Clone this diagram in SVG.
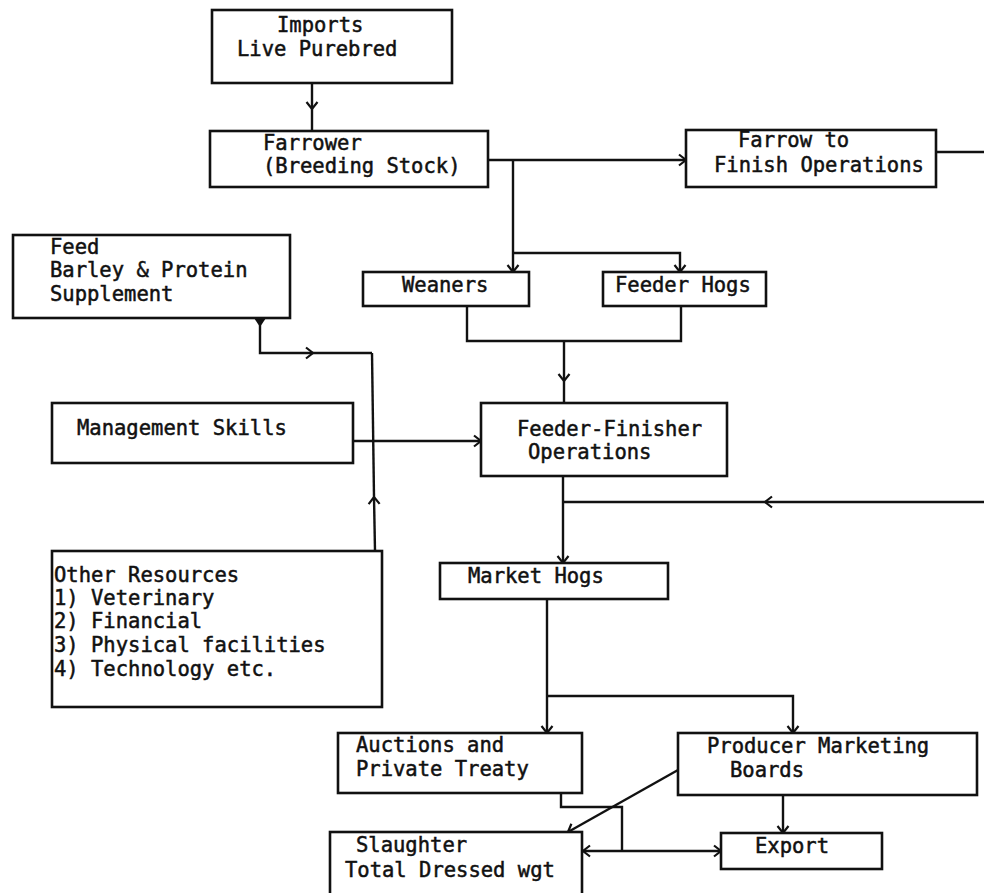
<svg xmlns="http://www.w3.org/2000/svg" width="984" height="893" viewBox="0 0 984 893">
<defs>
<style>
.box{fill:#fff;stroke:#111;stroke-width:2.6}
.ln{fill:none;stroke:#111;stroke-width:2.4}
text{font-family:"DejaVu Sans Mono","Liberation Mono",monospace;font-size:20.5px;fill:#111;stroke:#111;stroke-width:0.5}
</style>
<marker id="arr" viewBox="-10 -10 20 20" markerWidth="20" markerHeight="20" markerUnits="userSpaceOnUse" refX="0" refY="0" orient="auto">
<path d="M-7,-5.5 L0,0 L-7,5.5" fill="none" stroke="#111" stroke-width="2.2"/>
</marker>
</defs>
<rect width="984" height="893" fill="#fff"/>

<g id="connectors">
<path class="ln" d="M312,83 L312,109" marker-end="url(#arr)"/>
<path class="ln" d="M312,109 L312,131"/>
<path class="ln" d="M488,160 L686,160" marker-end="url(#arr)"/>
<path class="ln" d="M513,160 L513,272" marker-end="url(#arr)"/>
<path class="ln" d="M513,253 L680,253 L680,272" marker-end="url(#arr)"/>
<path class="ln" d="M936,152 L984,152"/>
<path class="ln" d="M467,306 L467,341 L681,341 L681,306"/>
<path class="ln" d="M564,341 L564,381" marker-end="url(#arr)"/>
<path class="ln" d="M564,381 L564,403"/>
<polygon points="254,318 266,318 260,327" fill="#111"/>
<path class="ln" d="M260,318 L260,353 L313,353" marker-end="url(#arr)"/>
<path class="ln" d="M313,353 L372,353"/>
<path class="ln" d="M375,551 L374,497" marker-end="url(#arr)"/>
<path class="ln" d="M374,497 L372,353"/>
<path class="ln" d="M353,441 L481,441" marker-end="url(#arr)"/>
<path class="ln" d="M563,476 L563,563" marker-end="url(#arr)"/>
<path class="ln" d="M984,502 L765,502" marker-end="url(#arr)"/>
<path class="ln" d="M765,502 L563,502"/>
<path class="ln" d="M547,599 L547,733" marker-end="url(#arr)"/>
<path class="ln" d="M547,696 L793,696 L793,733" marker-end="url(#arr)"/>
<path class="ln" d="M561,793 L561,807 L622,807 L622,851"/>
<path class="ln" d="M622,851 L583,851" marker-end="url(#arr)"/>
<path class="ln" d="M622,851 L721,851" marker-end="url(#arr)"/>
<path class="ln" d="M678,770 L568,832" marker-end="url(#arr)"/>
<path class="ln" d="M783,795 L783,833" marker-end="url(#arr)"/>
</g>

<g id="imports">
<rect class="box" x="212" y="10" width="240" height="73"/>
<text x="277" y="32">Imports</text>
<text x="237" y="56">Live Purebred</text>
</g>
<g id="farrower">
<rect class="box" x="210" y="131" width="278" height="56"/>
<text x="263" y="150">Farrower</text>
<text x="263" y="173">(Breeding Stock)</text>
</g>
<g id="farrow-to-finish">
<rect class="box" x="686" y="130" width="250" height="57"/>
<text x="738" y="147">Farrow to</text>
<text x="714" y="172">Finish Operations</text>
</g>
<g id="feed">
<rect class="box" x="13" y="235" width="277" height="83"/>
<text x="50" y="254">Feed</text>
<text x="50" y="277">Barley &amp; Protein</text>
<text x="50" y="301">Supplement</text>
</g>
<g id="weaners">
<rect class="box" x="363" y="272" width="166" height="34"/>
<text x="402" y="292">Weaners</text>
</g>
<g id="feeder-hogs">
<rect class="box" x="603" y="272" width="163" height="34"/>
<text x="615" y="292">Feeder Hogs</text>
</g>
<g id="management-skills">
<rect class="box" x="52" y="403" width="301" height="60"/>
<text x="77" y="435">Management Skills</text>
</g>
<g id="feeder-finisher">
<rect class="box" x="481" y="403" width="246" height="73"/>
<text x="517" y="436">Feeder-Finisher</text>
<text x="528" y="459">Operations</text>
</g>
<g id="other-resources">
<rect class="box" x="52" y="551" width="330" height="156"/>
<text x="54" y="582">Other Resources</text>
<text x="54" y="605">1) Veterinary</text>
<text x="54" y="628">2) Financial</text>
<text x="54" y="652">3) Physical facilities</text>
<text x="54" y="676">4) Technology etc.</text>
</g>
<g id="market-hogs">
<rect class="box" x="440" y="563" width="228" height="36"/>
<text x="468" y="583">Market Hogs</text>
</g>
<g id="auctions">
<rect class="box" x="338" y="733" width="244" height="60"/>
<text x="356" y="752">Auctions and</text>
<text x="356" y="776">Private Treaty</text>
</g>
<g id="producer-marketing-boards">
<rect class="box" x="678" y="733" width="299" height="62"/>
<text x="707" y="753">Producer Marketing</text>
<text x="730" y="777">Boards</text>
</g>
<g id="slaughter">
<rect class="box" x="330" y="832" width="252" height="70"/>
<text x="356" y="852">Slaughter</text>
<text x="345" y="877">Total Dressed wgt</text>
</g>
<g id="export">
<rect class="box" x="721" y="833" width="161" height="36"/>
<text x="755" y="853">Export</text>
</g>
</svg>
